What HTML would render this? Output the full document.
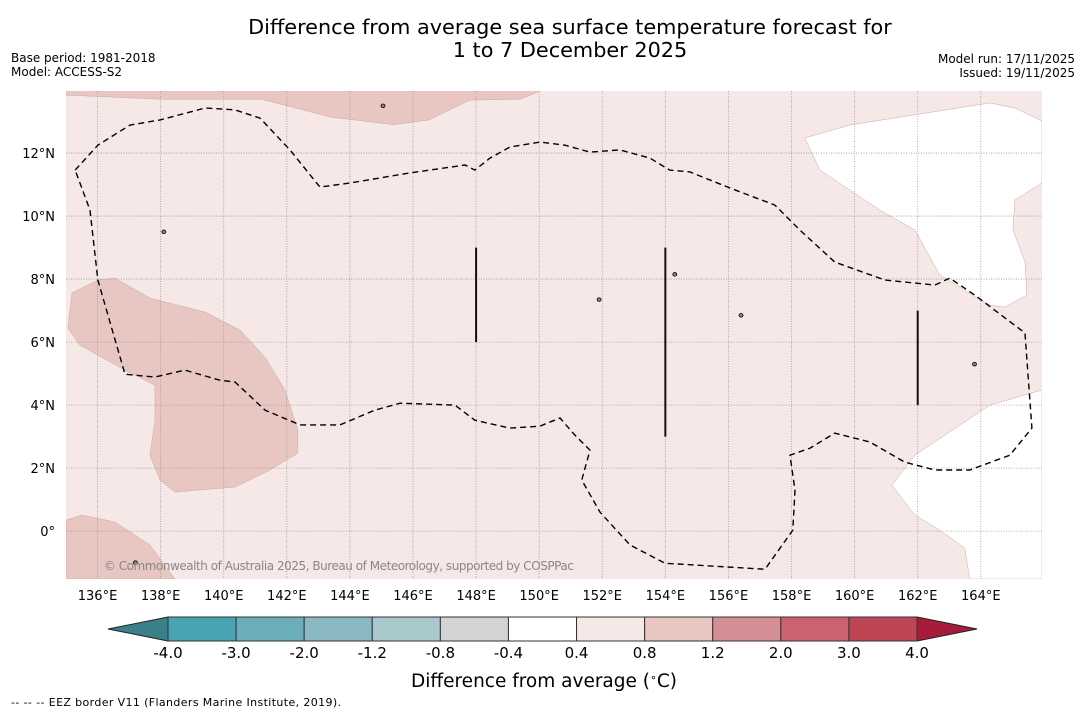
<!DOCTYPE html>
<html><head><meta charset="utf-8"><style>
body{margin:0;background:#fff;}
svg{display:block;font-family:"DejaVu Sans","Liberation Sans",sans-serif;}
</style></head><body>
<svg id="c" width="1085" height="713" viewBox="0 0 1085 713">
<text x="570" y="34" font-size="20.8" text-anchor="middle">Difference from average sea surface temperature forecast for</text>
<text x="570" y="57" font-size="20.8" text-anchor="middle">1 to 7 December 2025</text>
<text x="11" y="62" font-size="12">Base period: 1981-2018</text>
<text x="11" y="76" font-size="12">Model: ACCESS-S2</text>
<text x="1075" y="63" font-size="12" text-anchor="end">Model run: 17/11/2025</text>
<text x="1075" y="77" font-size="12" text-anchor="end">Issued: 19/11/2025</text>
<g id="map"></g>
<g id="cbar"></g>
<text x="544" y="687" font-size="18.5" text-anchor="middle">Difference from average (<tspan baseline-shift="super" font-size="11">∘</tspan>C)</text>
<text x="11" y="706" font-size="11" textLength="330">--  --  -- EEZ border V11 (Flanders Marine Institute, 2019).</text>
</svg>
<script>
const lonTicks=[136,138,140,142,144,146,148,150,152,154,156,158,160,162,164];
const latTicks=[0,2,4,6,8,10,12];
const topBand=[[135,14],[135,13.84],[138,13.71],[141.2,13.71],[143.4,13.14],[145.4,12.9],[146.5,13.05],[147.8,13.68],[149.4,13.71],[150.1,14]];
const leftBlob=[[136.01,7.97],[136.55,8.03],[137.66,7.4],[139.41,6.95],[140.52,6.38],[141.31,5.52],[141.94,4.48],[142.35,3.21],[142.35,2.48],[141.47,1.94],[140.36,1.4],[138.45,1.24],[137.98,1.62],[137.66,2.41],[137.82,3.52],[137.82,4.63],[136.87,5.11],[135.44,5.9],[135.06,6.44],[135.19,7.56]];
const bottomLeftBlob=[[135,0.35],[135.51,0.51],[136.55,0.29],[137.66,-0.44],[138.45,-1.52],[135,-1.52]];
const whiteNE=[[158.42,12.48],[159.85,12.89],[164.29,13.59],[165.08,13.43],[165.94,13.02],[165.94,11.05],[165.08,10.51],[165.02,9.56],[165.4,8.54],[165.46,7.49],[164.76,7.11],[164.29,7.17],[163.49,7.65],[162.7,8.13],[161.91,9.56],[160.8,10.19],[158.9,11.46]];
const whiteSE=[[161.18,1.46],[161.91,2.41],[164.29,4.0],[165.94,4.48],[165.94,-1.52],[163.65,-1.52],[163.49,-0.54],[162.7,0.03],[161.91,0.51]];
const contour=[[135.29,11.46],[136.01,12.25],[137.03,12.89],[137.98,13.05],[139.41,13.43],[140.36,13.37],[141.15,13.11],[142.1,12.1],[143.05,10.92],[144.0,11.05],[145.9,11.37],[147.65,11.62],[147.96,11.46],[148.44,11.84],[149.07,12.19],[150.02,12.35],[150.82,12.25],[151.61,12.03],[152.56,12.1],[153.51,11.84],[154.14,11.46],[154.78,11.4],[156.05,10.89],[157.47,10.35],[158.26,9.56],[159.37,8.54],[160.96,7.97],[162.54,7.81],[163.02,8.03],[163.81,7.49],[165.4,6.29],[165.62,3.27],[164.92,2.41],[163.65,1.94],[162.54,1.94],[161.59,2.19],[160.48,2.83],[159.37,3.11],[158.58,2.63],[157.95,2.41],[158.11,1.3],[158.04,0.03],[157.16,-1.21],[153.99,-1.02],[152.88,-0.44],[151.93,0.6],[151.35,1.62],[151.61,2.57],[151.13,3.05],[150.66,3.59],[150.02,3.33],[149.07,3.27],[147.96,3.52],[147.33,4.0],[145.59,4.06],[144.79,3.84],[143.68,3.37],[142.42,3.37],[141.31,3.84],[140.36,4.73],[139.88,4.79],[138.77,5.11],[137.82,4.89],[136.87,4.98],[136.01,7.97],[135.76,10.19]];
const eezLines=[[148,9,6],[154,9,3],[162,7,4]];
const islands=[[145.05,13.5],[138.1,9.5],[156.4,6.85],[137.2,-1.0],[151.9,7.35],[154.3,8.15],[163.8,5.3]];
const cbLevels=["-4.0","-3.0","-2.0","-1.2","-0.8","-0.4","0.4","0.8","1.2","2.0","3.0","4.0"];
const cbColors=["#4aa3b3","#6badbb","#8ab8c3","#a9c9cd","#d3d3d3","#ffffff","#f5e8e6","#e8c6c1","#d48f96","#c9636f","#bd4554"];
const cbLow="#3a8089", cbHigh="#a61c3a";

const NS="http://www.w3.org/2000/svg";
const X0=66,X1=1042,Y0=91,Y1=579;
const lonMin=135,lonMax=165.94,latMin=-1.52,latMax=13.97;
const px=lon=>X0+(lon-lonMin)/(lonMax-lonMin)*(X1-X0);
const py=lat=>Y1-(lat-latMin)/(latMax-latMin)*(Y1-Y0);
function mk(tag,attrs,parent){const e=document.createElementNS(NS,tag);for(const k in attrs)e.setAttribute(k,attrs[k]);parent.appendChild(e);return e;}
const map=document.getElementById('map');
const clip=mk('clipPath',{id:'mc'},map);mk('rect',{x:X0,y:Y0,width:X1-X0,height:Y1-Y0},clip);
const g=mk('g',{'clip-path':'url(#mc)'},map);
let r=mk('rect',{x:X0,y:Y0,width:X1-X0,height:Y1-Y0,fill:'#f5e8e6'},g);

function poly(pts,fill,name){const p=mk('polygon',{points:pts.map(q=>px(q[0])+','+py(q[1])).join(' '),fill:fill,stroke:'#c9a9a5','stroke-width':0.5},g);

}
poly(topBand,'#e8c6c1','warm-region-north');
poly(leftBlob,'#e8c6c1','warm-region-west');
poly(bottomLeftBlob,'#e8c6c1','warm-region-southwest');
poly(whiteNE,'#ffffff','neutral-region-northeast');
poly(whiteSE,'#ffffff','neutral-region-southeast');
lonTicks.forEach(l=>{const ln=mk('line',{x1:px(l),x2:px(l),y1:Y0,y2:Y1,stroke:'#999','stroke-width':0.8,'stroke-dasharray':'1,1.5'},g);

});
latTicks.forEach(l=>{const ln=mk('line',{x1:X0,x2:X1,y1:py(l),y2:py(l),stroke:'#999','stroke-width':0.8,'stroke-dasharray':'1,1.5'},g);

});
const cp=mk('polygon',{points:contour.map(q=>px(q[0])+','+py(q[1])).join(' '),fill:'none',stroke:'#000','stroke-width':1.4,'stroke-dasharray':'6,4'},g);


eezLines.forEach(e=>{const ln=mk('line',{x1:px(e[0]),x2:px(e[0]),y1:py(e[1]),y2:py(e[2]),stroke:'#111','stroke-width':2},g);

});
islands.forEach(i=>{const c=mk('ellipse',{cx:px(i[0]),cy:py(i[1]),rx:2,ry:1.8,fill:'#888',stroke:'#000','stroke-width':0.8},g);

});
const cr=mk('text',{x:px(136.2),y:570,'font-size':12,fill:'#888',textLength:470},g);cr.textContent='© Commonwealth of Australia 2025, Bureau of Meteorology, supported by COSPPac';


lonTicks.forEach(l=>{const t=mk('text',{x:px(l),y:600,'font-size':13,'text-anchor':'middle'},map);t.textContent=l+'°E';

});
latTicks.forEach(l=>{const t=mk('text',{x:55,y:py(l)+5,'font-size':13,'text-anchor':'end'},map);t.textContent=(l===0?'0°':l+'°N');

});
const cb=document.getElementById('cbar');
const CB0=168,CB1=917,CY=617,CH=24,tipL=108,tipR=977;
const w=(CB1-CB0)/cbColors.length;
let a=mk('polygon',{points:`${CB0},${CY} ${tipL},${CY+CH/2} ${CB0},${CY+CH}`,fill:cbLow,stroke:'#222','stroke-width':1},cb);

a=mk('polygon',{points:`${CB1},${CY} ${tipR},${CY+CH/2} ${CB1},${CY+CH}`,fill:cbHigh,stroke:'#222','stroke-width':1},cb);

cbColors.forEach((c,i)=>{const b=mk('rect',{x:CB0+i*w,y:CY,width:w,height:CH,fill:c,stroke:'#333','stroke-width':1},cb);

});
cbLevels.forEach((l,i)=>{const t=mk('text',{x:CB0+i*w,y:658,'font-size':15,'text-anchor':'middle'},cb);t.textContent=l;

});
</script>
</body></html>
